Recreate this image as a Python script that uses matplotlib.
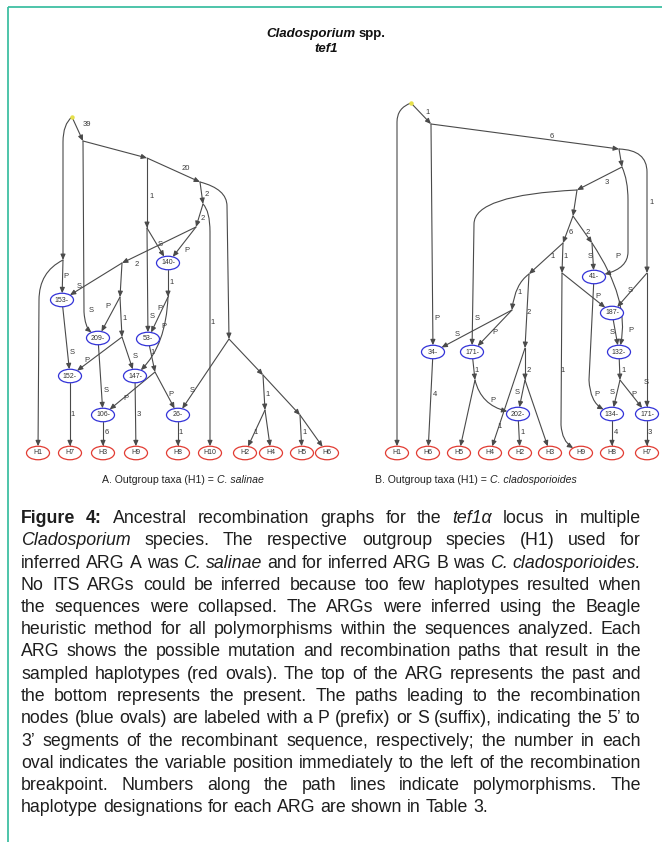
import math
import matplotlib
matplotlib.use("Agg")
import matplotlib.pyplot as plt
from matplotlib import font_manager
from matplotlib.patches import Ellipse, FancyArrowPatch
from matplotlib.path import Path

# ---------------------------------------------------------------- data
TITLE_LINE1 = [("Cladosporium", "bi"), ("spp.", "b")]
TITLE_LINE2 = [("tef1", "bi")]
SUBCAP_A = [("A. Outgroup taxa (H1) =", "r"), ("C. salinae", "i")]
SUBCAP_B = [("B. Outgroup taxa (H1) =", "r"), ("C. cladosporioides", "i")]

# ---- graph A
A_node_names = ["rootA", "a1", "a2", "a3", "a4", "a5", "a6", "a7", "a8", "a9",
                "a10", "a11", "a12", "a13", "a14", "a15", "a16"]
A_node_x = [72, 83, 147, 200, 203, 196, 147, 122, 120, 63, 168, 122, 155, 229, 263, 265, 300]
A_node_y = [117, 141, 158, 182, 204, 227, 228, 263, 297, 260, 297, 337, 372, 339, 375, 410, 415]
A_recomb_keys = ["A153", "A140", "A209", "A53", "A152", "A147", "A106", "A26"]
A_recomb_labels = ["153-", "140-", "209-", "53-", "152-", "147-", "106-", "26-"]
A_recomb_x = [62, 168, 98, 148, 70, 135, 103, 178]
A_recomb_y = [300, 263, 338, 339, 376, 376, 415, 415]
A_haplo_labels = ["H1", "H7", "H3", "H9", "H8", "H10", "H2", "H4", "H5", "H6"]
A_haplo_x = [38, 70, 103, 136, 178, 210, 245, 271, 302, 327]
A_edges = [
    ("rootA", "a9", [("c", 63, 124), (63, 142)]),
    ("a9", "A153", []),
    ("a9", "A:H1", [("c", 39, 272), (39, 300)]),
    ("rootA", "a1", []),
    ("a1", "a2", []),
    ("a2", "a3", []),
    ("a1", "A209", [(84, 312), ("c", 85, 327)]),
    ("a2", "a6", []),
    ("a6", "A53", []),
    ("a6", "A140", []),
    ("a3", "a4", []),
    ("a3", "a13", [("c", 227, 189), (227, 206)]),
    ("a4", "a5", []),
    ("a4", "A:H10", [("c", 210, 211), (210, 232)]),
    ("a5", "A140", []),
    ("a5", "a7", []),
    ("a7", "A153", []),
    ("a7", "a8", []),
    ("a8", "A209", []),
    ("a8", "a11", []),
    ("a11", "A147", []),
    ("a11", "A152", []),
    ("A153", "A152", []),
    ("A140", "a10", []),
    ("a10", "A53", []),
    ("a10", "A147", [("c", 166, 345)]),
    ("A209", "A106", []),
    ("A53", "a12", []),
    ("a12", "A106", []),
    ("a12", "A26", []),
    ("a13", "A26", []),
    ("a13", "a14", []),
    ("a14", "a16", []),
    ("a16", "A:H6", []),
    ("a14", "a15", []),
    ("a15", "A:H2", []),
    ("a15", "A:H4", []),
    ("a16", "A:H5", []),
    ("A152", "A:H7", []),
    ("A106", "A:H3", []),
    ("A147", "A:H9", []),
    ("A26", "A:H8", []),
]
A_edge_labels = [
    (87, 125, "39"), (186, 168, "20"), (152, 197, "1"), (207, 194, "2"), (203, 219, "2"),
    (137, 265, "2"), (66, 277, "P"), (160, 245, "S"), (187, 251, "P"), (79, 287, "S"),
    (172, 283, "1"), (108, 306, "P"), (125, 318, "1"), (91, 311, "S"), (152, 316, "S"),
    (160, 308, "P"), (164, 327, "P"), (213, 323, "1"), (72, 352, "S"), (87, 361, "P"),
    (135, 356, "S"), (153, 352, "1"), (106, 390, "S"), (126, 398, "P"), (171, 395, "P"),
    (192, 390, "S"), (268, 395, "1"), (73, 415, "1"), (107, 433, "6"), (139, 415, "3"),
    (181, 433, "1"), (256, 433, "1"), (305, 433, "1"),
]

# ---- graph B
B_node_names = ["rootB", "b1", "b2", "b3", "b4", "b5", "b6", "b7", "b8", "b9",
                "b10", "b11", "b12", "b13", "b14", "b15"]
B_node_x = [411, 431, 619, 622, 577, 573, 563, 592, 562, 529, 512, 525, 525, 475, 647, 620]
B_node_y = [103, 124, 149, 167, 190, 216, 243, 243, 273, 274, 310, 348, 380, 380, 273, 380]
B_recomb_keys = ["B34", "B171a", "B41", "B187", "B132", "B202", "B134", "B171b"]
B_recomb_labels = ["34-", "171-", "41-", "187-", "132-", "202-", "134-", "171-"]
B_recomb_x = [433, 472, 594, 612, 619, 518, 612, 647]
B_recomb_y = [352, 352, 277, 313, 352, 414, 414, 414]
B_haplo_labels = ["H1", "H6", "H5", "H4", "H2", "H3", "H9", "H8", "H7"]
B_haplo_x = [397, 428, 459, 490, 520, 550, 581, 612, 647]
B_edges = [
    ("rootB", "B:H1", [("c", 397, 108), (397, 122)]),
    ("rootB", "b1", []),
    ("b1", "B34", []),
    ("b1", "b2", []),
    ("b2", "b14", [("c", 647, 150), (647, 172)]),
    ("b2", "b3", []),
    ("b3", "b4", []),
    ("b3", "B41", [("c", 628, 180), (628, 200), (628, 252), ("c", 628, 268)]),
    ("b4", "B171a", [("c", 474, 195), (474, 224)]),
    ("b4", "b5", []),
    ("b5", "b6", []),
    ("b5", "b7", []),
    ("b7", "B41", []),
    ("b7", "B132", [("c", 630, 300)]),
    ("b6", "b8", []),
    ("b6", "b9", []),
    ("b8", "B187", []),
    ("b8", "B:H9", [(561, 425), ("c", 562, 441)]),
    ("b14", "B187", []),
    ("b14", "B171b", []),
    ("B41", "B134", [(589, 380), ("c", 590, 402)]),
    ("B187", "B132", []),
    ("B132", "b15", []),
    ("b15", "B134", []),
    ("b15", "B171b", []),
    ("B134", "B:H8", []),
    ("B171b", "B:H7", []),
    ("b9", "b10", [("c", 515, 284)]),
    ("b9", "b11", []),
    ("b10", "B34", []),
    ("b10", "B171a", []),
    ("B34", "B:H6", []),
    ("B171a", "b13", []),
    ("b13", "B:H5", []),
    ("b13", "B202", [("c", 481, 405)]),
    ("b11", "B:H4", []),
    ("b11", "b12", []),
    ("b12", "B202", []),
    ("b12", "B:H3", []),
    ("B202", "B:H2", []),
]
B_edge_labels = [
    (428, 112, "1"), (552, 136, "6"), (652, 203, "1"), (607, 182, "3"), (571, 233, "6"),
    (588, 232, "2"), (590, 257, "S"), (618, 257, "P"), (566, 257, "1"), (553, 257, "1"),
    (437, 318, "P"), (477, 318, "S"), (630, 290, "S"), (598, 297, "P"), (520, 293, "1"),
    (529, 313, "2"), (457, 335, "S"), (495, 333, "P"), (612, 333, "S"), (631, 330, "P"),
    (477, 370, "1"), (529, 370, "2"), (624, 370, "1"), (563, 370, "1"), (646, 382, "S"),
    (435, 395, "4"), (493, 400, "P"), (517, 393, "S"), (597, 394, "P"), (612, 393, "S"),
    (634, 394, "P"), (500, 427, "1"), (523, 433, "1"), (616, 433, "4"), (650, 433, "3"),
]
HAPLO_Y = 453

CAPTION = [
    "**Figure** **4:** Ancestral recombination graphs for the _tef1\u03b1_ locus in multiple",
    "_Cladosporium_ species. The respective outgroup species (H1) used for",
    "inferred ARG A was _C._ _salinae_ and for inferred ARG B was _C._ _cladosporioides._",
    "No ITS ARGs could be inferred because too few haplotypes resulted when",
    "the sequences were collapsed. The ARGs were inferred using the Beagle",
    "heuristic method for all polymorphisms within the sequences analyzed. Each",
    "ARG shows the possible mutation and recombination paths that result in the",
    "sampled haplotypes (red ovals). The top of the ARG represents the past and",
    "the bottom represents the present. The paths leading to the recombination",
    "nodes (blue ovals) are labeled with a P (prefix) or S (suffix), indicating the 5\u2019 to",
    "3\u2019 segments of the recombinant sequence, respectively; the number in each",
    "oval indicates the variable position immediately to the left of the recombination",
    "breakpoint. Numbers along the path lines indicate polymorphisms. The",
    "haplotype designations for each ARG are shown in Table 3.",
]

# ---------------------------------------------------------------- fonts
names = {f.name for f in font_manager.fontManager.ttflist}
SANS = "Liberation Sans" if "Liberation Sans" in names else "DejaVu Sans"

# ---------------------------------------------------------------- figure
W, H = 662, 842
fig = plt.figure(figsize=(6.62, 8.42), dpi=100)
ax = fig.add_axes([0, 0, 1, 1])
ax.set_xlim(0, W)
ax.set_ylim(H, 0)
ax.axis("off")
renderer = fig.canvas.get_renderer()

TEAL = "#3fbfa2"
ax.plot([8, W], [7, 7], color=TEAL, lw=1.3, solid_capstyle="butt")
ax.plot([8, 8], [7, H], color=TEAL, lw=1.3, solid_capstyle="butt")

EDGE_COL = "#4a4a4a"
OVAL_W, OVAL_H = 23, 13.5
RED, BLUE = "#e23b32", "#3232d8"

POS, OVAL = {}, {}
for nn, xx, yy in zip(A_node_names + B_node_names, A_node_x + B_node_x, A_node_y + B_node_y):
    POS[nn] = (xx, yy)
for kk, lab, xx, yy in zip(A_recomb_keys + B_recomb_keys, A_recomb_labels + B_recomb_labels,
                           A_recomb_x + B_recomb_x, A_recomb_y + B_recomb_y):
    POS[kk] = (xx, yy)
    OVAL[kk] = (lab, BLUE)
for pre, labs, xs in (("A:", A_haplo_labels, A_haplo_x), ("B:", B_haplo_labels, B_haplo_x)):
    for lab, xx in zip(labs, xs):
        POS[pre + lab] = (xx, HAPLO_Y)
        OVAL[pre + lab] = (lab, RED)


def clip(P, C):
    """point on the oval (centre C) boundary along the segment P -> C"""
    a, b = OVAL_W / 2, OVAL_H / 2
    dx, dy = C[0] - P[0], C[1] - P[1]
    qx, qy = P[0] - C[0], P[1] - C[1]
    A = (dx / a) ** 2 + (dy / b) ** 2
    B = 2 * (qx * dx / a ** 2 + qy * dy / b ** 2)
    Cc = (qx / a) ** 2 + (qy / b) ** 2 - 1
    disc = max(B * B - 4 * A * Cc, 0)
    t = (-B - math.sqrt(disc)) / (2 * A)
    return (P[0] + t * dx, P[1] + t * dy)


def draw_edge(src, dst, via):
    items = [("p",) + tuple(POS[src])]
    for v in via:
        if isinstance(v[0], str):
            items.append(("c", v[1], v[2]))
        else:
            items.append(("p", v[0], v[1]))
    items.append(("p",) + tuple(POS[dst]))
    if src in OVAL:
        items[0] = ("p",) + clip(items[1][1:], POS[src])
    if dst in OVAL:
        items[-1] = ("p",) + clip(items[-2][1:], POS[dst])
    verts, codes = [items[0][1:]], [Path.MOVETO]
    pending = False
    for it in items[1:]:
        verts.append(it[1:])
        if it[0] == "c":
            codes.append(Path.CURVE3)
            pending = True
        else:
            codes.append(Path.CURVE3 if pending else Path.LINETO)
            pending = False
    arr = FancyArrowPatch(path=Path(verts, codes), transform=ax.transData,
                          arrowstyle="-|>,head_length=0.5,head_width=0.22",
                          mutation_scale=6.5, color=EDGE_COL, lw=0.8, zorder=2)
    ax.add_patch(arr)


for e in A_edges + B_edges:
    draw_edge(*e)

for kk, (lab, col) in OVAL.items():
    x, y = POS[kk]
    ax.add_patch(Ellipse((x, y), OVAL_W, OVAL_H, facecolor="white", edgecolor=col,
                         lw=0.9, zorder=4))
    ax.text(x, y, lab, fontsize=5, ha="center", va="center", color="#333333",
            family=SANS, zorder=5)

for lx, ly, s in A_edge_labels + B_edge_labels:
    ax.text(lx, ly, s, fontsize=5.5, ha="center", va="center", color="#3a3a3a",
            family=SANS, zorder=3)

for root in ("rootA", "rootB"):
    ax.plot(*POS[root], marker="o", ms=2.2, color="#e6e04a", zorder=5)


# ---------------------------------------------------------------- text helpers
def style_kw(st, fs, family):
    kw = dict(fontsize=fs, family=family)
    if "b" in st:
        kw["weight"] = "bold"
    if "i" in st:
        kw["style"] = "italic"
    return kw


def width_of(s, kw):
    t = ax.text(0, 0, s, **kw)
    w = t.get_window_extent(renderer).width
    t.remove()
    return w


def runs_centered(runs, xc, yb, fs, family, color="#111111"):
    kws = [style_kw(st, fs, family) for _, st in runs]
    ws = [width_of(s, k) for (s, _), k in zip(runs, kws)]
    gap = 0.278 * fs * 100 / 72
    total = sum(ws) + gap * (len(runs) - 1)
    x = xc - total / 2
    for (s, _), k, w in zip(runs, kws, ws):
        ax.text(x, yb, s, ha="left", va="baseline", color=color, **k)
        x += w + gap


runs_centered(TITLE_LINE1, 326, 36.5, 9.5, SANS)
runs_centered(TITLE_LINE2, 326, 51.5, 9.5, SANS)
runs_centered(SUBCAP_A, 183, 483, 7.6, SANS, "#222222")
runs_centered(SUBCAP_B, 476, 483, 7.6, SANS, "#222222")


def tokens(line):
    out = []
    for w in line.split(" "):
        if w.startswith("**") and w.endswith("**"):
            out.append((w[2:-2], "b"))
        elif w.startswith("_") and w.endswith("_") and len(w) > 1:
            out.append((w[1:-1], "i"))
        else:
            out.append((w, "r"))
    return out


CAP_L, CAP_R = 21, 641
CAP_Y0, CAP_DY = 523, 22.25
cap_tokens = [tokens(l) for l in CAPTION]

fs = 13.0
def natural(tok, fs):
    ws = [width_of(s, style_kw(st, fs, SANS)) for s, st in tok]
    return sum(ws) + 0.27 * fs * 100 / 72 * (len(tok) - 1)

mx = max(natural(t, fs) for t in cap_tokens)
if mx > (CAP_R - CAP_L):
    fs = fs * (CAP_R - CAP_L) / mx * 0.995

for i, tok in enumerate(cap_tokens):
    kws = [style_kw(st, fs, SANS) for _, st in tok]
    ws = [width_of(s, k) for (s, _), k in zip(tok, kws)]
    y = CAP_Y0 + i * CAP_DY
    if i < len(cap_tokens) - 1:
        gap = (CAP_R - CAP_L - sum(ws)) / (len(tok) - 1)
    else:
        gap = 0.278 * fs * 100 / 72
    x = CAP_L
    for (s, _), k, w in zip(tok, kws, ws):
        ax.text(x, y, s, ha="left", va="baseline", color="#1e1e1e", **k)
        x += w + gap

fig.savefig("out.png", dpi=100)
